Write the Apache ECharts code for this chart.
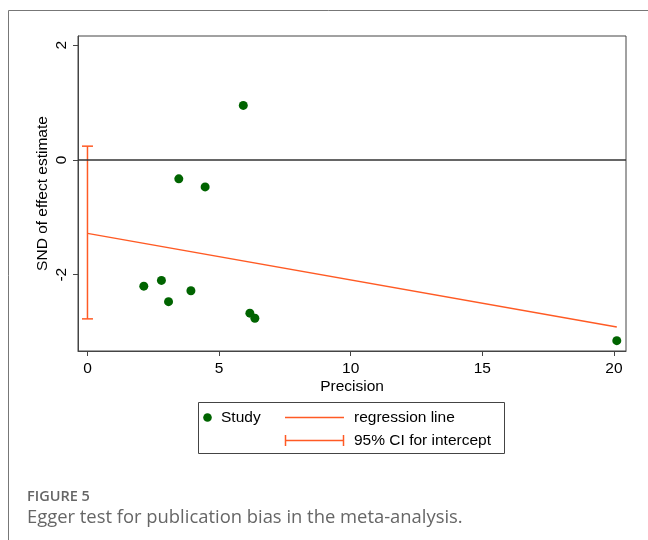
<!DOCTYPE html>
<html>
<head>
<meta charset="utf-8">
<script src="https://cdn.jsdelivr.net/npm/echarts@6/dist/echarts.min.js"></script>
<style>
html,body{margin:0;padding:0;background:#fff;}
#main{width:648px;height:540px;}
</style>
</head>
<body>
<div id="main"></div>
<script>
// Study points: [precision, SND of effect estimate]
var studyPrecision = [5.92, 3.47, 4.47, 2.14, 2.81, 3.08, 3.93, 6.17, 6.36, 20.11];
var studySND = [0.95, -0.33, -0.47, -2.20, -2.10, -2.47, -2.28, -2.67, -2.76, -3.15];
// Regression line endpoints
var regX = [0, 20.11];
var regY = [-1.28, -2.91];
// 95% CI for intercept
var ciX = [0];
var ciLow = [-2.77];
var ciHigh = [0.24];
// Tick labels
var xTicks = [0, 5, 10, 15, 20];
var yTicks = [-2, 0, 2];

var FONT = '"Liberation Sans", Arial, sans-serif';
var FS = 15.5;
var ORANGE = '#ff5a24';
var GREEN = '#006400';

var studyData = studyPrecision.map(function (x, i) { return [x, studySND[i]]; });
var regData = regX.map(function (x, i) { return [x, regY[i]]; });
var ciData = ciX.map(function (x, i) { return [x, ciLow[i], ciHigh[i]]; });

var chart = echarts.init(document.getElementById('main'), null, {renderer: 'canvas'});
var option = {
  animation: false,
  backgroundColor: '#fff',
  grid: {left: 78, top: 36, right: 22, bottom: 189, show: true, borderColor: '#444', borderWidth: 1},
  xAxis: {
    type: 'value', min: -0.36, max: 20.46,
    name: 'Precision', nameLocation: 'middle', nameGap: 28, nameMoveOverlap: false,
    nameTextStyle: {fontFamily: FONT, fontSize: FS, color: '#000'},
    axisLine: {show: true, onZero: false, lineStyle: {color: '#444', width: 1}},
    axisTick: {show: true, length: 5, customValues: xTicks, lineStyle: {color: '#444'}},
    axisLabel: {customValues: xTicks, fontFamily: FONT, fontSize: FS, color: '#000', margin: 10},
    splitLine: {show: false}
  },
  yAxis: {
    type: 'value', min: -3.33, max: 2.16,
    name: 'SND of effect estimate', nameLocation: 'middle', nameGap: 27, nameRotate: 90, nameMoveOverlap: false,
    nameTextStyle: {fontFamily: FONT, fontSize: FS, color: '#000'},
    axisLine: {show: true, onZero: false, lineStyle: {color: '#444', width: 1}},
    axisTick: {show: true, length: 5, customValues: yTicks, lineStyle: {color: '#444'}},
    axisLabel: {customValues: yTicks, rotate: 90, fontFamily: FONT, fontSize: FS, color: '#000', margin: 8},
    splitLine: {show: false}
  },
  series: [
    {
      type: 'line', data: regData, symbol: 'none', silent: true,
      lineStyle: {color: ORANGE, width: 1.5},
      markLine: {
        silent: true, symbol: 'none', label: {show: false},
        lineStyle: {color: '#333', width: 1.5, type: 'solid'},
        data: [{yAxis: 0}]
      },
      z: 2
    },
    {
      type: 'custom', data: ciData, silent: true, z: 3,
      renderItem: function (params, api) {
        var top = api.coord([api.value(0), api.value(2)]);
        var bot = api.coord([api.value(0), api.value(1)]);
        var hw = 5.5;
        var st = {stroke: ORANGE, lineWidth: 1.5};
        return {type: 'group', children: [
          {type: 'line', shape: {x1: top[0], y1: top[1], x2: bot[0], y2: bot[1]}, style: st},
          {type: 'line', shape: {x1: top[0] - hw, y1: top[1], x2: top[0] + hw, y2: top[1]}, style: st},
          {type: 'line', shape: {x1: bot[0] - hw, y1: bot[1], x2: bot[0] + hw, y2: bot[1]}, style: st}
        ]};
      }
    },
    {
      type: 'scatter', data: studyData, symbol: 'circle', symbolSize: 9,
      itemStyle: {color: GREEN, opacity: 1}, z: 4
    }
  ],
  graphic: [
    {type: 'rect', shape: {x: 8.5, y: 10.5, width: 700, height: 600}, style: {fill: 'none', stroke: '#777', lineWidth: 1}, silent: true},
    {type: 'rect', shape: {x: 198.5, y: 402.5, width: 306, height: 51}, style: {fill: '#fff', stroke: '#444', lineWidth: 1}},
    {type: 'circle', shape: {cx: 207.5, cy: 417.5, r: 4.3}, style: {fill: GREEN}},
    {type: 'text', x: 221, y: 417.5, style: {text: 'Study', font: FS + 'px ' + FONT, fill: '#000', verticalAlign: 'middle'}},
    {type: 'line', shape: {x1: 285, y1: 417.5, x2: 344, y2: 417.5}, style: {stroke: ORANGE, lineWidth: 1.5}},
    {type: 'text', x: 354, y: 417.5, style: {text: 'regression line', font: FS + 'px ' + FONT, fill: '#000', verticalAlign: 'middle'}},
    {type: 'line', shape: {x1: 285, y1: 440.5, x2: 344, y2: 440.5}, style: {stroke: ORANGE, lineWidth: 1.5}},
    {type: 'line', shape: {x1: 285.5, y1: 435, x2: 285.5, y2: 446}, style: {stroke: ORANGE, lineWidth: 1.5}},
    {type: 'line', shape: {x1: 343.5, y1: 435, x2: 343.5, y2: 446}, style: {stroke: ORANGE, lineWidth: 1.5}},
    {type: 'text', x: 354, y: 440.5, style: {text: '95% CI for intercept', font: FS + 'px ' + FONT, fill: '#000', verticalAlign: 'middle'}},
    {type: 'text', x: 27, y: 497, style: {text: 'FIGURE 5', font: '600 14.5px "Open Sans", sans-serif', fill: '#666', verticalAlign: 'middle'}},
    {type: 'text', x: 27, y: 517.5, style: {text: 'Egger test for publication bias in the meta-analysis.', font: '18.4px "Open Sans", sans-serif', fill: '#666', verticalAlign: 'middle'}}
  ]
};
chart.setOption(option);
</script>
</body>
</html>
